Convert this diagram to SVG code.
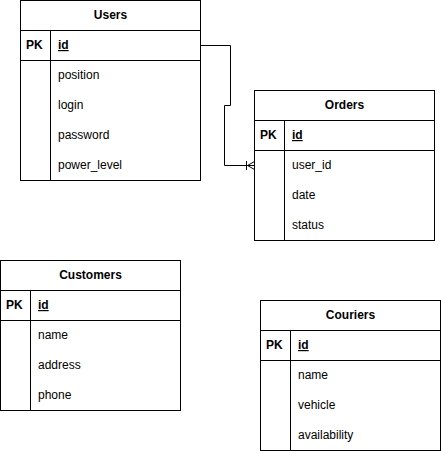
<svg xmlns="http://www.w3.org/2000/svg" width="441" height="451" viewBox="0 0 441 451">
<style>
.box{fill:#fff;stroke:#000;stroke-width:1}
.ln{stroke:#000;stroke-width:1;fill:none}
text{font-family:"Liberation Sans",Arial,sans-serif;font-size:12px;fill:#000}
.h{font-weight:bold;text-anchor:middle}
.pk{font-weight:bold}
.id{font-weight:bold;text-decoration:underline}
</style>
<rect width="441" height="451" fill="#fff"/>
<g id="connectors">
<path class="ln" d="M200.5,45.5 H230.5 V105.5 H224.5 V165.5 H254.5"/>
<path class="ln" d="M246.5,161 V170 M254.5,161.5 L247.5,165.5 L254.5,169.5"/>
</g>
<g id="users">
<rect class="box" x="20.5" y="0.5" width="180" height="180"/>
<path class="ln" d="M20.5,30.5 H200.5 M20.5,60.5 H200.5 M50.5,30.5 V180.5"/>
<text class="h" x="110.5" y="19">Users</text>
<text class="pk" x="26" y="49">PK</text>
<text class="id" x="58" y="49">id</text>
<text x="58" y="79">position</text>
<text x="58" y="109">login</text>
<text x="58" y="139">password</text>
<text x="58" y="169">power_level</text>
</g>
<g id="orders">
<rect class="box" x="254.5" y="90.5" width="180" height="150"/>
<path class="ln" d="M254.5,120.5 H434.5 M254.5,150.5 H434.5 M284.5,120.5 V240.5"/>
<text class="h" x="344.5" y="109">Orders</text>
<text class="pk" x="260" y="139">PK</text>
<text class="id" x="292" y="139">id</text>
<text x="292" y="169">user_id</text>
<text x="292" y="199">date</text>
<text x="292" y="229">status</text>
</g>
<g id="customers">
<rect class="box" x="0.5" y="260.5" width="180" height="150"/>
<path class="ln" d="M0.5,290.5 H180.5 M0.5,320.5 H180.5 M30.5,290.5 V410.5"/>
<text class="h" x="90.5" y="279">Customers</text>
<text class="pk" x="6" y="309">PK</text>
<text class="id" x="38" y="309">id</text>
<text x="38" y="339">name</text>
<text x="38" y="369">address</text>
<text x="38" y="399">phone</text>
</g>
<g id="couriers">
<rect class="box" x="260.5" y="300.5" width="180" height="150"/>
<path class="ln" d="M260.5,330.5 H440.5 M260.5,360.5 H440.5 M290.5,330.5 V450.5"/>
<text class="h" x="350.5" y="319">Couriers</text>
<text class="pk" x="266" y="349">PK</text>
<text class="id" x="298" y="349">id</text>
<text x="298" y="379">name</text>
<text x="298" y="409">vehicle</text>
<text x="298" y="439">availability</text>
</g>
</svg>
